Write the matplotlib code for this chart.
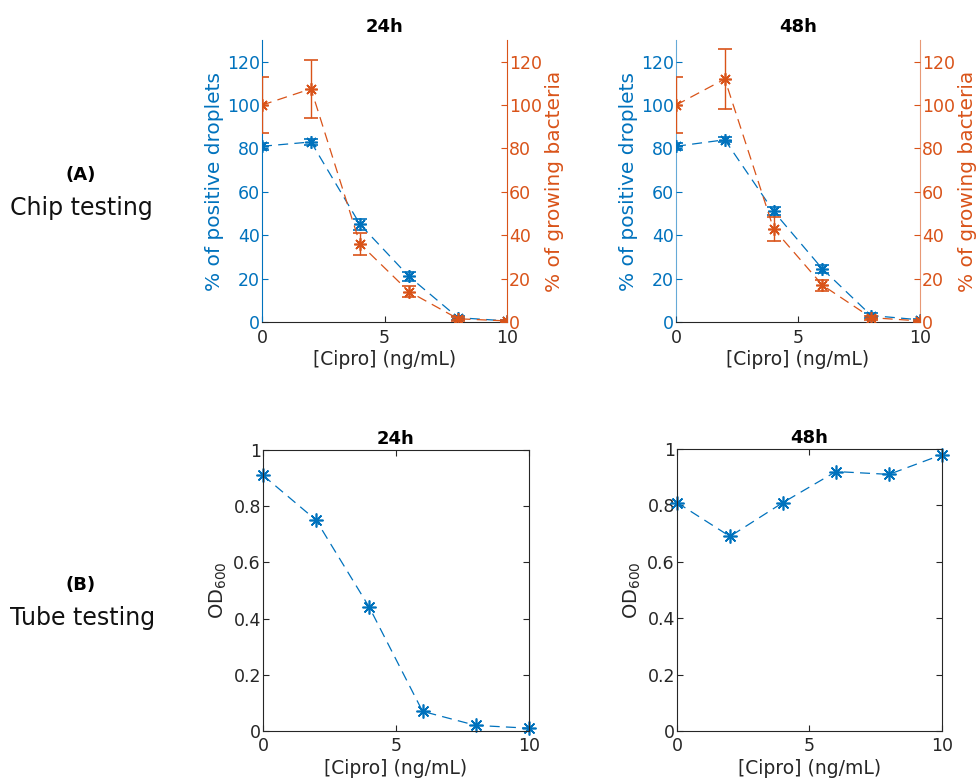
import numpy as np
import matplotlib
matplotlib.use('Agg')
import matplotlib.pyplot as plt

# ---- data ----
cipro = [0, 2, 4, 6, 8, 10]

# chip testing, 24h
drop_24 = [81, 83, 45, 21, 2, 0.5]
drop_24_err = [1.5, 1.2, 2.5, 2.0, 1.0, 0.5]
grow_24 = [100, 107.5, 36, 14, 1.5, 0.5]
grow_24_err = [13, 13.5, 5, 2.5, 1.0, 0.5]

# chip testing, 48h
drop_48 = [81, 84, 51, 24.5, 3, 1]
drop_48_err = [1.5, 1.2, 1.8, 1.8, 1.2, 0.5]
grow_48 = [100, 112, 43, 17, 2, 0.5]
grow_48_err = [13, 14, 5.5, 2.5, 1.0, 0.5]

# tube testing
od_24 = [0.91, 0.75, 0.44, 0.07, 0.02, 0.01]
od_48 = [0.81, 0.69, 0.81, 0.92, 0.91, 0.98]

BLUE = '#0072BD'
ORANGE = '#D95319'
DARK = '#262626'
STAR = (8, 2, 0)
DASH = (0, (8, 5))
TICK_FS = 12.5

plt.rcParams['font.family'] = 'DejaVu Sans'
plt.rcParams['font.size'] = 11.5

fig = plt.figure(figsize=(9.79, 7.78), dpi=100)


def chip_panel(rect, title, drop, drop_err, grow, grow_err, spine_alpha=1.0):
    ax = fig.add_axes(rect)
    ax.errorbar(cipro, drop, yerr=drop_err, color=BLUE, linestyle=DASH, linewidth=0.9,
                marker=STAR, markersize=9, markeredgewidth=1.2, capsize=5, elinewidth=1.0)
    ax.set_xlim(0, 10)
    ax.set_ylim(0, 130)
    ax.set_yticks([0, 20, 40, 60, 80, 100, 120])
    ax.set_xticks([0, 5, 10])
    ax.set_ylabel('% of positive droplets', color=BLUE, labelpad=2, fontsize=14.5)
    ax.set_xlabel('[Cipro] (ng/mL)', color=DARK, labelpad=2, fontsize=13.5)
    ax.set_title(title, fontweight='bold', pad=6, fontsize=13)
    ax.tick_params(axis='y', colors=BLUE, direction='in', length=4, labelsize=TICK_FS, pad=1.5)
    ax.tick_params(axis='x', colors=DARK, direction='in', length=4, labelsize=TICK_FS, pad=5)
    ax.spines['top'].set_visible(False)
    ax.spines['right'].set_visible(False)
    ax.spines['left'].set_color(BLUE)
    ax.spines['left'].set_alpha(spine_alpha)
    ax.spines['bottom'].set_color(DARK)

    ax2 = ax.twinx()
    ax2.errorbar(cipro, grow, yerr=grow_err, color=ORANGE, linestyle=DASH, linewidth=0.9,
                 marker=STAR, markersize=9, markeredgewidth=1.2, capsize=5, elinewidth=1.0)
    ax2.set_ylim(0, 130)
    ax2.set_yticks([0, 20, 40, 60, 80, 100, 120])
    ax2.set_ylabel('% of growing bacteria', color=ORANGE, labelpad=2, fontsize=14.5)
    ax2.tick_params(axis='y', colors=ORANGE, direction='in', length=4, labelsize=TICK_FS, pad=1.5)
    for s in ['top', 'left', 'bottom']:
        ax2.spines[s].set_visible(False)
    ax2.spines['right'].set_color(ORANGE)
    ax2.spines['right'].set_alpha(spine_alpha)
    return ax


def tube_panel(rect, title, od):
    ax = fig.add_axes(rect)
    ax.plot(cipro, od, color=BLUE, linestyle=DASH, linewidth=0.9,
            marker=STAR, markersize=10, markeredgewidth=1.2, clip_on=False)
    ax.set_xlim(0, 10)
    ax.set_ylim(0, 1)
    ax.set_xticks([0, 5, 10])
    ax.set_yticks([0, 0.2, 0.4, 0.6, 0.8, 1])
    ax.set_yticklabels(['0', '0.2', '0.4', '0.6', '0.8', '1'])
    ax.set_ylabel('OD$_{600}$', color=DARK, labelpad=3, fontsize=14)
    ax.set_xlabel('[Cipro] (ng/mL)', color=DARK, labelpad=3, fontsize=13.5)
    ax.set_title(title, fontweight='bold', pad=4, fontsize=13)
    ax.tick_params(colors=DARK, direction='in', length=4, top=True, right=True,
                   labelsize=TICK_FS, pad=1.5)
    ax.tick_params(axis='x', pad=4)
    for s in ax.spines.values():
        s.set_color(DARK)
        s.set_linewidth(0.8)
    return ax


chip_panel([0.2676, 0.5861, 0.2503, 0.3625], '24h', drop_24, drop_24_err, grow_24, grow_24_err)
chip_panel([0.6905, 0.5861, 0.2492, 0.3625], '48h', drop_48, drop_48_err, grow_48, grow_48_err,
           spine_alpha=0.6)
tube_panel([0.2686, 0.0604, 0.2717, 0.3612], '24h', od_24)
tube_panel([0.6915, 0.0604, 0.2707, 0.3625], '48h', od_48)

fig.text(0.082, 0.775, '(A)', fontweight='bold', ha='center', va='center', fontsize=13)
fig.text(0.083, 0.733, 'Chip testing', ha='center', va='center', fontsize=17, color='#111111')
fig.text(0.082, 0.248, '(B)', fontweight='bold', ha='center', va='center', fontsize=13)
fig.text(0.084, 0.206, 'Tube testing', ha='center', va='center', fontsize=17, color='#111111')

fig.savefig('out.png', dpi=100)
